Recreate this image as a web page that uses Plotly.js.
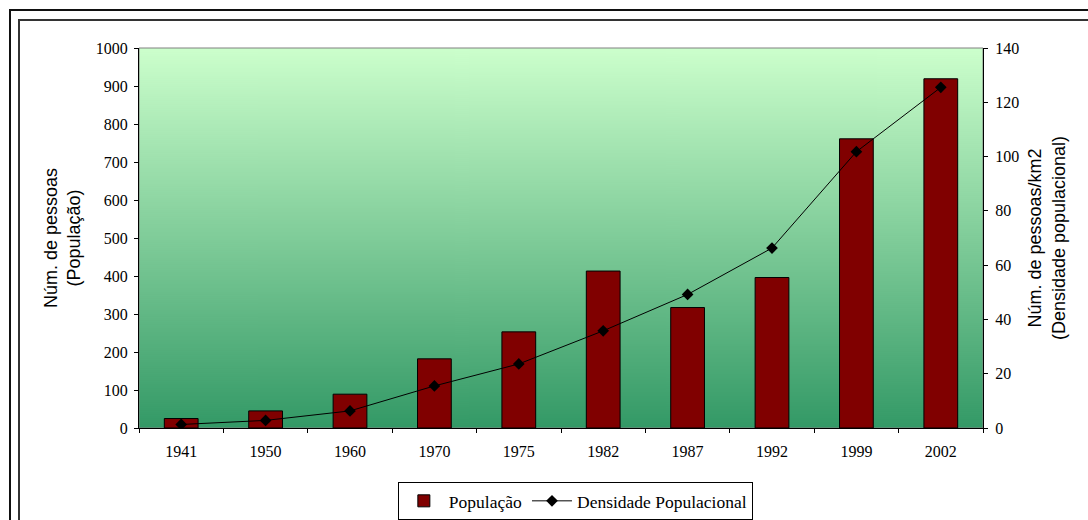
<!DOCTYPE html>
<html><head><meta charset="utf-8">
<script src="https://cdn.plot.ly/plotly-3.0.1.min.js"></script>
<style>
html,body{margin:0;padding:0;background:#fff;overflow:hidden}
#frame1{position:absolute;left:9px;top:9px;width:1200px;height:700px;border:2px solid #111}
#frame2{position:absolute;left:18px;top:19px;width:1200px;height:700px;border:2px solid #333}
#chart{position:absolute;left:0;top:0;width:1088px;height:520px}
</style></head><body>
<div id="frame1"></div><div id="frame2"></div><div id="chart"></div>
<script>
const years = ['1941','1950','1960','1970','1975','1982','1987','1992','1999','2002'];
const population = [25, 45, 89, 182, 253, 413, 317, 396, 761, 919];
const density = [1.3, 2.8, 6.3, 15.5, 23.6, 35.8, 49.2, 66.3, 101.8, 125.5];
const leftTicks = [0,100,200,300,400,500,600,700,800,900,1000];
const rightTicks = [0,20,40,60,80,100,120,140];

// gradient background image built at runtime
const cv = document.createElement('canvas');
cv.width = 4; cv.height = 380;
const cx = cv.getContext('2d');
const g = cx.createLinearGradient(0,0,0,380);
g.addColorStop(0,'#ccffcc');
g.addColorStop(1,'#339966');
cx.fillStyle = g; cx.fillRect(0,0,4,380);
const bg = cv.toDataURL();

const serif = 'Liberation Serif, Times New Roman, serif';
const sans = 'Liberation Sans, Arial, sans-serif';

const traces = [
  {type:'bar', x:years, y:population, name:'População',
   marker:{color:'#800000', line:{color:'#000', width:1}}, yaxis:'y'},
  {type:'scatter', mode:'lines+markers', x:years, y:density, name:'Densidade Populacional',
   line:{color:'#000', width:1}, marker:{symbol:'diamond', size:9, color:'#000'}, yaxis:'y2'}
];

const n = years.length;
const bounds = [];
for (let i = 0; i < n - 1; i++) bounds.push(i + 0.5);

const layout = {
  width:1088, height:520,
  margin:{l:139, r:105, t:48, b:92, autoexpand:false},
  paper_bgcolor:'rgba(0,0,0,0)', plot_bgcolor:'rgba(0,0,0,0)',
  bargap:0.6,
  showlegend:true,
  font:{family:serif, size:16, color:'#000'},
  xaxis:{type:'category', categoryorder:'array', categoryarray:years, range:[-0.5, n-0.5],
         ticks:'outside', tickson:'boundaries', ticklen:4, tickcolor:'#000', tickwidth:1,
         showline:true, linecolor:'#000', linewidth:1, showgrid:false, zeroline:false,
         tickfont:{family:serif, size:16}, automargin:false, ticklabelstandoff:9},
  xaxis2:{overlaying:'x', anchor:'y', range:[-0.5, n-0.5], tickvals:bounds, ticks:'inside', ticklen:5,
          tickcolor:'#000', showticklabels:false, showgrid:false, zeroline:false, showline:false},
  yaxis:{range:[0,1000], tickvals:leftTicks, ticks:'outside', ticklen:4, tickcolor:'#000',
         showline:true, linecolor:'#000', linewidth:1, showgrid:false, zeroline:false,
         tickfont:{family:serif, size:16}, automargin:false, ticklabelstandoff:3,
         title:{text:'Núm. de pessoas<br>(População)', font:{family:sans, size:18}, standoff:10}},
  yaxis3:{overlaying:'y', anchor:'x', side:'left', range:[0,1000], tickvals:leftTicks, ticks:'inside', ticklen:4,
          tickcolor:'#000', showticklabels:false, showgrid:false, zeroline:false, showline:false},
  yaxis2:{overlaying:'y', side:'right', range:[0,140], tickvals:rightTicks, ticks:'outside', ticklen:4,
          tickcolor:'#000', showline:true, linecolor:'#000', linewidth:1, showgrid:false, zeroline:false,
          tickfont:{family:serif, size:16}, automargin:false, ticklabelstandoff:4,
          title:{text:'Núm. de pessoas/km2<br>(Densidade populacional)', font:{family:sans, size:18}, standoff:10}},
  yaxis4:{overlaying:'y', anchor:'x', side:'right', range:[0,140], tickvals:rightTicks, ticks:'inside', ticklen:4,
          tickcolor:'#000', showticklabels:false, showgrid:false, zeroline:false, showline:false},
  images:[{source:bg, xref:'paper', yref:'paper', x:0, y:1, sizex:1, sizey:1,
           sizing:'stretch', xanchor:'left', yanchor:'top', layer:'below'}],
  shapes:[{type:'rect', xref:'paper', yref:'paper', x0:0, x1:1, y0:0, y1:1,
           line:{color:'#808080', width:1}, layer:'below'}],
  legend:{orientation:'h', x:0.517, xanchor:'center', y:-0.142, yanchor:'top',
          bgcolor:'#fff', bordercolor:'#000', borderwidth:1,
          font:{family:serif, size:17.5}, itemwidth:40}
};

Plotly.newPlot('chart', traces, layout, {staticPlot:true, displayModeBar:false});
</script></body></html>
